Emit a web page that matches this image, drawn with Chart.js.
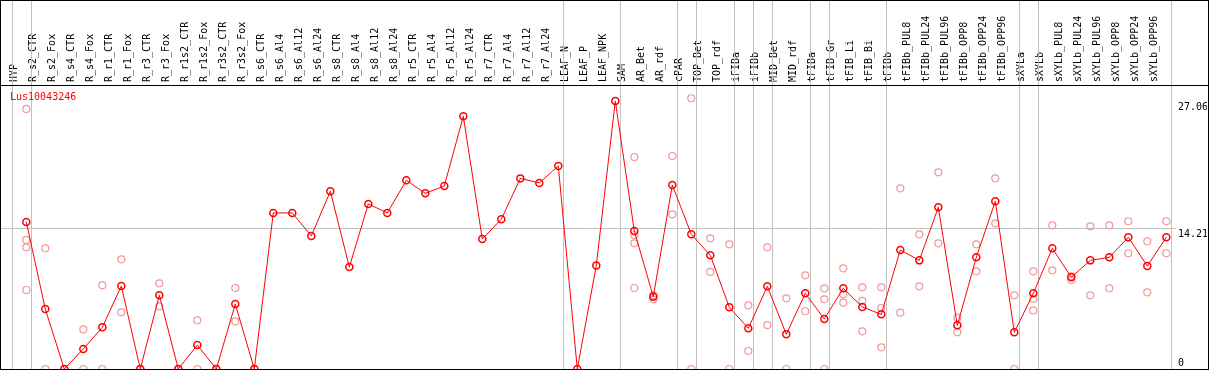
<!DOCTYPE html>
<html><head><meta charset="utf-8">
<script src="https://cdn.jsdelivr.net/npm/chart.js@4.4.1/dist/chart.umd.min.js"></script>
<style>html,body{margin:0;padding:0;background:#fff;overflow:hidden}canvas{display:block}</style>
</head><body>
<canvas id="c" width="1209" height="370"></canvas>
<script>
const geneName = 'Lus10043246';
const categories = ['HYP','R_s2_CTR','R_s2_Fox','R_s4_CTR','R_s4_Fox','R_r1_CTR','R_r1_Fox','R_r3_CTR','R_r3_Fox','R_r1s2_CTR','R_r1s2_Fox','R_r3s2_CTR','R_r3s2_Fox','R_s6_CTR','R_s6_Al4','R_s6_Al12','R_s6_Al24','R_s8_CTR','R_s8_Al4','R_s8_Al12','R_s8_Al24','R_r5_CTR','R_r5_Al4','R_r5_Al12','R_r5_Al24','R_r7_CTR','R_r7_Al4','R_r7_Al12','R_r7_Al24','LEAF_N','LEAF_P','LEAF_NPK','SAM','AR_Bet','AR_rdf','cPAR','TOP_Bet','TOP_rdf','iFIBa','iFIBb','MID_Bet','MID_rdf','tFIBa','tFIB_Gr','tFIB_Li','tFIB_Bi','tFIBb','tFIBb_PUL8','tFIBb_PUL24','tFIBb_PUL96','tFIBb_OPP8','tFIBb_OPP24','tFIBb_OPP96','sXYLa','sXYLb','sXYLb_PUL8','sXYLb_PUL24','sXYLb_PUL96','sXYLb_OPP8','sXYLb_OPP24','sXYLb_OPP96'];
const means = [14.85,6.05,0,2.02,4.21,8.38,0,7.44,0,2.42,0,6.56,0,15.76,15.76,13.43,17.95,10.30,16.67,15.76,19.05,17.74,18.48,25.52,13.13,15.12,19.25,18.79,20.50,0,10.46,27.06,13.94,7.30,18.58,13.60,11.48,6.23,4.11,8.35,3.50,7.64,5.05,8.15,6.26,5.52,12.02,10.97,16.33,4.41,11.28,16.94,3.70,7.64,12.19,9.26,10.97,11.28,13.30,10.40,13.30];
const replicates = [
  [26.26,13.03,12.29,7.98],[12.19,0],[0,0],[4.00,0],[8.45,0],[11.08,5.72],[0,0],[8.65,6.33],[0,0],[4.92,0],[0,0],[8.18,4.81],[0,0],
  [],[],[],[],[],[],[],[],[],[],[],[],[],[],[],[],
  [],[],[],
  [21.41,13.53,12.69,8.18],[7.45,7.04,7.40],[21.51,15.62],[27.34,0],[13.20,9.80],[12.59,0],[6.43,1.82],[12.29,4.44],[7.14,0],[9.46,5.83],
  [8.15,7.04,0],[10.17,7.54,6.70],[8.25,6.87,3.80],[8.25,6.16,2.19],[18.25,5.69],[13.60,8.35],[19.86,12.69],[5.18,3.70],[12.59,9.86],[19.26,14.71],[7.44,0],
  [9.86,7.10,5.92],[14.51,9.96],[9.36,8.99],[14.41,7.44],[14.51,8.15],[14.92,11.69],[12.90,7.74],[14.92,11.69]
];
const yTickValues = [0, 14.21, 27.06];
const groupEnds = [-1, 0, 28, 31, 34, 35, 37, 38, 39, 41, 42, 45, 52, 53, 60];

const meanPoints = means.map((v, i) => ({x: i, y: v}));
const repPoints = [];
replicates.forEach((arr, i) => arr.forEach(v => repPoints.push({x: i, y: v})));

const FONT = "'DejaVu Sans Mono', monospace";
Chart.defaults.font.family = FONT;
Chart.defaults.font.size = 10;
Chart.defaults.color = '#000';

const decor = {
  id: 'decor',
  beforeDatasetsDraw(chart) {
    const {ctx, scales: {x}, chartArea} = chart;
    ctx.save();
    ctx.fillStyle = '#c0c0c0';
    groupEnds.forEach(i => {
      const px = Math.round(x.getPixelForValue(i + 0.23));
      ctx.fillRect(px, 1, 1, chartArea.bottom - 1);
    });
    ctx.restore();
  },
  afterDraw(chart) {
    const {ctx, chartArea, width, height} = chart;
    ctx.save();
    ctx.fillStyle = '#000';
    ctx.fillRect(0, 0, width, 1);
    ctx.fillRect(0, height - 1, width, 1);
    ctx.fillRect(0, 0, 1, height);
    ctx.fillRect(width - 1, 0, 1, height);
    ctx.fillRect(0, chartArea.top, width, 1);
    ctx.fillStyle = '#ff0000';
    ctx.font = '10px ' + FONT;
    ctx.textBaseline = 'middle';
    ctx.textAlign = 'left';
    ctx.fillText(geneName, 10, chartArea.top + 12);
    ctx.restore();
  }
};

new Chart(document.getElementById('c'), {
  type: 'scatter',
  data: {
    datasets: [
      {
        data: meanPoints,
        showLine: true,
        borderColor: '#ff0000',
        borderWidth: 1,
        pointRadius: 3.5,
        pointBorderWidth: 1.5,
        pointBorderColor: '#ff0000',
        pointBackgroundColor: 'rgba(0,0,0,0)',
        order: 0
      },
      {
        data: repPoints,
        showLine: false,
        pointRadius: 3.5,
        pointBorderWidth: 1.2,
        pointBorderColor: '#f09898',
        pointBackgroundColor: 'rgba(0,0,0,0)',
        order: 1
      }
    ]
  },
  options: {
    responsive: false,
    animation: false,
    devicePixelRatio: 1,
    layout: {autoPadding: false, padding: {left: 1, right: 2, top: 1, bottom: 1}},
    plugins: {legend: {display: false}, tooltip: {enabled: false}, title: {display: false}},
    scales: {
      x: {
        type: 'linear',
        position: 'top',
        min: -1.3316,
        max: 60.2997,
        afterBuildTicks: s => { s.ticks = categories.map((_, i) => ({value: i})); },
        afterFit: s => { s.height = 84; s.paddingLeft = 0; s.paddingRight = 0; s.paddingTop = 0; s.paddingBottom = 0; },
        grid: {display: false, drawTicks: false},
        border: {display: false},
        ticks: {
          autoSkip: false,
          minRotation: 90,
          maxRotation: 90,
          padding: 3,
          font: {family: FONT, size: 10},
          color: '#000',
          callback: v => categories[Math.round(v)]
        }
      },
      y: {
        type: 'linear',
        position: 'right',
        min: 0,
        max: 28.68,
        afterBuildTicks: s => { s.ticks = yTickValues.map(v => ({value: v})); },
        afterFit: s => { s.width = 35; s.paddingLeft = 0; s.paddingRight = 0; s.paddingTop = 0; s.paddingBottom = 0; },
        grid: {
          color: c => (c.tick && c.tick.value === 14.21) ? '#c0c0c0' : 'rgba(0,0,0,0)',
          lineWidth: 1,
          drawTicks: true,
          tickLength: 4
        },
        border: {display: false},
        ticks: {
          padding: 2,
          font: {family: FONT, size: 10},
          color: '#000',
          callback: v => v === 0 ? ['0', ''] : ['', String(v.toFixed(2))]
        }
      }
    }
  },
  plugins: [decor]
});
</script>
</body></html>
